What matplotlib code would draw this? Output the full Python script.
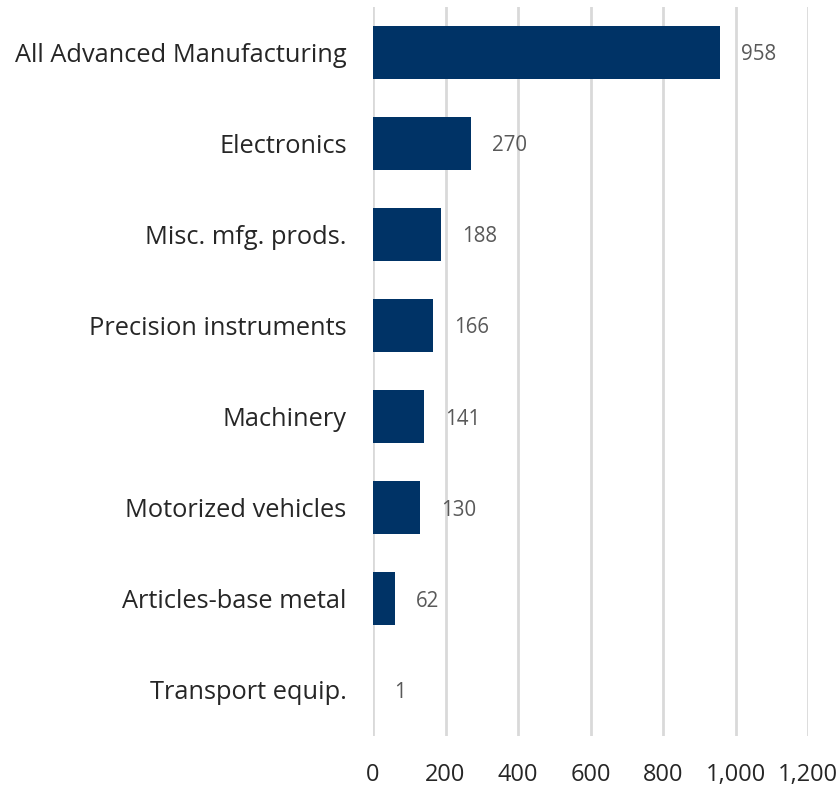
import matplotlib.pyplot as plt
from matplotlib.ticker import FuncFormatter

categories = [
    "All Advanced Manufacturing",
    "Electronics",
    "Misc. mfg. prods.",
    "Precision instruments",
    "Machinery",
    "Motorized vehicles",
    "Articles-base metal",
    "Transport equip.",
]
values = [958, 270, 188, 166, 141, 130, 62, 1]
x_ticks = [0, 200, 400, 600, 800, 1000, 1200]

bar_color = "#003366"
grid_color = "#D9D9D9"

plt.rcParams["font.family"] = ["Open Sans", "DejaVu Sans"]

fig = plt.figure(figsize=(8.39, 7.87), dpi=100)
ax = fig.add_axes([0.4446, 0.0654, 0.5185, 0.9263])

ypos = list(range(len(categories)))
ax.barh(ypos, values, height=0.58, color=bar_color, zorder=3)

for y, v in zip(ypos, values):
    ax.annotate(f"{v:,}", (v, y), xytext=(15, 0), textcoords="offset points",
                va="center_baseline", ha="left", fontsize=14.8, color="#595959")

ax.set_xlim(0, 1200)
ax.set_ylim(len(categories) - 0.5, -0.5)
ax.set_xticks(x_ticks)
ax.xaxis.set_major_formatter(FuncFormatter(lambda v, _: f"{int(v):,}"))
ax.set_yticks(ypos)
ax.set_yticklabels(categories)

ax.grid(axis="x", color=grid_color, linewidth=2, zorder=0)
ax.tick_params(axis="both", length=0, colors="#262626")
ax.tick_params(axis="x", labelsize=17, pad=20)
ax.tick_params(axis="y", labelsize=18.3, pad=19)
for s in ax.spines.values():
    s.set_visible(False)

fig.savefig("out.png", dpi=100)
